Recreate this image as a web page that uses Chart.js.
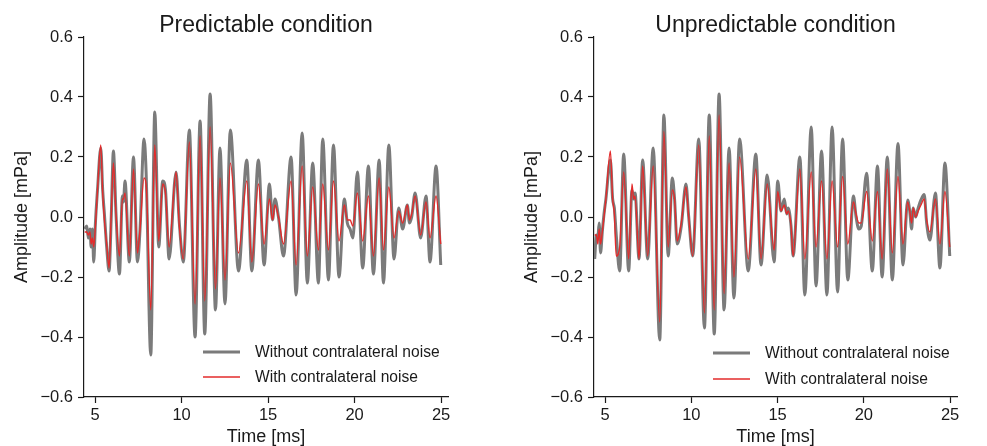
<!DOCTYPE html>
<html><head><meta charset="utf-8">
<script src="https://cdn.jsdelivr.net/npm/chart.js@4.4.1/dist/chart.umd.min.js"></script>
<style>
html,body{margin:0;padding:0;background:#fff;}
#wrap{position:relative;width:987px;height:446px;overflow:hidden;background:#fff;}
.panel{position:absolute;top:0;height:446px;}
#p1{left:0;width:493px;}
#p2{left:510px;width:477px;}
</style></head><body>
<div id="wrap">
<div class="panel" id="p1"><canvas id="c1" width="493" height="446"></canvas></div>
<div class="panel" id="p2"><canvas id="c2" width="477" height="446"></canvas></div>
</div>
<script>
const PANEL_TITLES = ['Predictable condition', 'Unpredictable condition'];
const SERIES_LABELS = ['Without contralateral noise', 'With contralateral noise'];
const X_TITLE = 'Time [ms]';
const Y_TITLE = 'Amplitude [mPa]';
const X_TICKS = [5, 10, 15, 20, 25];
const Y_TICKS = [-0.6, -0.4, -0.2, 0, 0.2, 0.4, 0.6];

// Predictable condition
const PRED_TIME = [4.40,4.52,4.61,4.71,4.77,4.85,4.92,5.02,5.14,5.33,5.44,5.54,5.67,5.81,5.93,6.06,6.21,6.41,6.58,6.64,6.73,6.98,7.22,7.45,7.60,7.83,7.95,8.22,8.45,8.68,8.91,9.07,9.28,9.68,9.87,10.10,10.45,10.78,11.07,11.34,11.65,11.96,12.22,12.51,12.82,13.29,13.77,14.06,14.44,14.77,15.08,15.26,15.40,15.60,15.89,16.33,16.62,16.97,17.27,17.58,17.91,18.16,18.49,18.78,19.10,19.41,19.58,19.74,19.90,20.16,20.47,20.80,21.09,21.42,21.67,21.98,22.28,22.55,22.78,23.05,23.17,23.30,23.50,23.82,24.13,24.36,24.71,24.98];
const PRED_WITHOUT = [-0.04,-0.03,-0.07,-0.04,-0.10,-0.04,-0.15,-0.02,0.09,0.23,0.09,0.01,-0.10,-0.18,-0.01,0.22,0.01,-0.19,0.07,0.05,0.12,-0.15,0.20,-0.15,-0.04,0.26,0.15,-0.46,0.35,-0.10,0.12,0.09,-0.14,0.15,-0.02,-0.15,0.29,-0.40,0.32,-0.39,0.41,-0.31,0.23,-0.29,0.29,-0.18,0.19,-0.18,0.19,-0.16,0.11,-0.01,0.06,0.00,-0.13,0.20,-0.26,0.28,-0.22,0.18,-0.22,0.26,-0.21,0.24,-0.20,0.06,-0.02,-0.04,-0.07,0.15,-0.17,0.17,-0.19,0.19,-0.22,0.24,-0.14,0.03,-0.04,0.04,-0.02,0.00,0.08,-0.07,0.07,-0.15,0.17,-0.16];
const PRED_WITH = [-0.05,-0.05,-0.06,-0.05,-0.09,-0.07,-0.10,-0.03,0.09,0.24,0.08,-0.01,-0.09,-0.17,0.00,0.18,0.01,-0.13,0.06,0.06,0.08,-0.13,0.16,-0.12,-0.04,0.13,0.11,-0.31,0.24,-0.08,0.11,0.08,-0.10,0.15,-0.03,-0.14,0.25,-0.29,0.27,-0.28,0.30,-0.24,0.13,-0.21,0.18,-0.12,0.12,-0.15,0.11,-0.09,0.06,-0.01,0.04,0.00,-0.09,0.12,-0.16,0.17,-0.13,0.10,-0.11,0.11,-0.11,0.12,-0.08,0.04,-0.01,-0.01,-0.03,0.08,-0.08,0.07,-0.13,0.13,-0.11,0.10,-0.07,0.02,-0.02,0.04,-0.01,0.01,0.07,-0.06,0.05,-0.07,0.07,-0.09];

// Unpredictable condition
const UNPRED_TIME = [4.40,4.50,4.58,4.66,4.74,4.84,4.94,5.05,5.31,5.44,5.54,5.65,5.85,6.08,6.37,6.56,6.66,6.74,6.97,7.18,7.47,7.79,8.17,8.41,8.66,8.90,9.03,9.18,9.42,9.69,9.85,10.08,10.43,10.76,11.04,11.33,11.61,11.90,12.19,12.47,12.80,13.30,13.74,14.04,14.40,14.80,15.01,15.20,15.39,15.53,15.62,15.78,15.90,16.29,16.58,16.95,17.23,17.55,17.86,18.16,18.48,18.77,19.07,19.40,19.55,19.71,19.85,20.16,20.49,20.79,21.06,21.36,21.65,21.98,22.27,22.54,22.66,22.77,22.86,23.00,23.15,23.31,23.50,23.64,23.83,24.15,24.41,24.70,24.98];
const UNPRED_WITHOUT = [-0.14,-0.06,-0.07,-0.02,-0.12,-0.05,0.01,0.06,0.19,0.06,0.03,-0.06,-0.18,0.21,-0.18,0.09,0.06,0.08,-0.14,0.19,-0.14,0.23,-0.41,0.34,-0.13,0.13,0.06,-0.09,-0.03,0.11,0.00,-0.13,0.26,-0.37,0.34,-0.39,0.41,-0.31,0.23,-0.27,0.26,-0.18,0.21,-0.16,0.14,-0.15,0.12,0.02,0.06,0.01,0.03,-0.03,-0.13,0.20,-0.26,0.30,-0.23,0.22,-0.26,0.30,-0.25,0.26,-0.21,0.07,0.00,-0.04,-0.03,0.146,-0.18,0.17,-0.20,0.20,-0.21,0.245,-0.16,0.057,0.02,-0.04,0.03,0.00,0.03,0.057,0.075,-0.02,-0.077,0.08,-0.17,0.18,-0.13];
const UNPRED_WITH = [-0.06,-0.06,-0.09,-0.04,-0.09,-0.05,0.00,0.06,0.22,0.06,0.01,-0.13,-0.10,0.15,-0.14,0.11,0.06,0.07,-0.14,0.17,-0.13,0.17,-0.35,0.285,-0.10,0.09,0.06,-0.08,-0.02,0.10,0.00,-0.13,0.24,-0.32,0.27,-0.31,0.34,-0.255,0.18,-0.20,0.20,-0.14,0.16,-0.14,0.11,-0.11,0.085,0.02,0.04,0.01,0.02,-0.03,-0.13,0.16,-0.14,0.15,-0.10,0.12,-0.14,0.12,-0.10,0.135,-0.09,0.05,0.01,-0.02,-0.02,0.085,-0.08,0.085,-0.14,0.16,-0.12,0.135,-0.09,0.05,0.02,-0.02,0.03,0.00,0.02,0.04,0.06,-0.01,-0.05,0.06,-0.09,0.085,-0.10];

const GRAY = '#7b7b7b';
const RED = '#e32b2b';
const FONT = "'Liberation Sans', Arial, sans-serif";
const INK = '#1a1a1a';

const inlineLegend = {
  id: 'inlineLegend',
  afterDraw(chart, args, o) {
    const {ctx, chartArea: a} = chart;
    ctx.save();
    SERIES_LABELS.forEach((label, i) => {
      const ds = chart.data.datasets.find(d => d.label === label);
      const y = a.bottom + o.rows[i];
      ctx.beginPath();
      ctx.strokeStyle = ds.borderColor;
      ctx.lineWidth = ds.borderWidth;
      ctx.moveTo(a.left + o.x0, y);
      ctx.lineTo(a.left + o.x1, y);
      ctx.stroke();
      ctx.fillStyle = INK;
      ctx.font = '15.6px ' + FONT;
      ctx.textBaseline = 'middle';
      ctx.textAlign = 'left';
      ctx.fillText(label, a.left + o.tx, y + 1);
    });
    ctx.restore();
  }
};

function pts(t, v) { return t.map((x, i) => ({x: x, y: v[i]})); }

function makeChart(id, title, time, without, withN, padRight, rows) {
  return new Chart(document.getElementById(id), {
    type: 'line',
    data: {
      datasets: [
        {label: SERIES_LABELS[0], data: pts(time, without), borderColor: GRAY, borderWidth: 3,
         pointRadius: 0, cubicInterpolationMode: 'monotone', fill: false, order: 2},
        {label: SERIES_LABELS[1], data: pts(time, withN), borderColor: RED, borderWidth: 1.4,
         pointRadius: 0, cubicInterpolationMode: 'monotone', fill: false, order: 1}
      ]
    },
    options: {
      responsive: false,
      animation: false,
      devicePixelRatio: 1,
      layout: {padding: {left: 0, right: padRight, top: 0, bottom: 0}},
      plugins: {
        legend: {display: false},
        tooltip: {enabled: false},
        title: {display: true, text: title, color: INK, fullSize: false,
                font: {family: FONT, size: 23, weight: 'normal', lineHeight: 1.0},
                padding: {top: 14, bottom: 0}},
        inlineLegend: {rows: rows, x0: 119, x1: 156, tx: 171}
      },
      scales: {
        x: {
          type: 'linear', min: 4.36, max: 25.4,
          afterBuildTicks: s => { s.ticks = X_TICKS.map(v => ({value: v})); },
          afterFit: s => { s.height = 49; },
          grid: {display: true, drawOnChartArea: false, drawTicks: true, tickLength: 6, color: INK, tickWidth: 1.2},
          border: {display: true, color: INK, width: 1.2},
          ticks: {color: INK, font: {family: FONT, size: 16.5}, padding: 3, maxRotation: 0,
                  callback: v => String(v)},
          title: {display: true, text: X_TITLE, color: INK, font: {family: FONT, size: 18, lineHeight: 1.0},
                  padding: {top: 0, bottom: 0}}
        },
        y: {
          type: 'linear', min: -0.6, max: 0.6,
          afterBuildTicks: s => { s.ticks = Y_TICKS.map(v => ({value: v})); },
          afterFit: s => { s.width = 84; },
          grid: {display: true, drawOnChartArea: false, drawTicks: true, tickLength: 6, color: INK, tickWidth: 1.2},
          border: {display: true, color: INK, width: 1.2},
          ticks: {color: INK, font: {family: FONT, size: 16.5}, padding: 5,
                  callback: v => (Math.abs(v) < 1e-9 ? '0.0' : v.toFixed(1)).replace('-', '\u2212')},
          title: {display: true, text: Y_TITLE, color: INK, font: {family: FONT, size: 18, lineHeight: 1.0},
                  padding: {top: 13, bottom: 0}}
        }
      }
    },
    plugins: [inlineLegend]
  });
}

makeChart('c1', PANEL_TITLES[0], PRED_TIME, PRED_WITHOUT, PRED_WITH, 45, [-45, -20]);
makeChart('c2', PANEL_TITLES[1], UNPRED_TIME, UNPRED_WITHOUT, UNPRED_WITH, 30, [-44, -18]);
</script>
</body></html>
